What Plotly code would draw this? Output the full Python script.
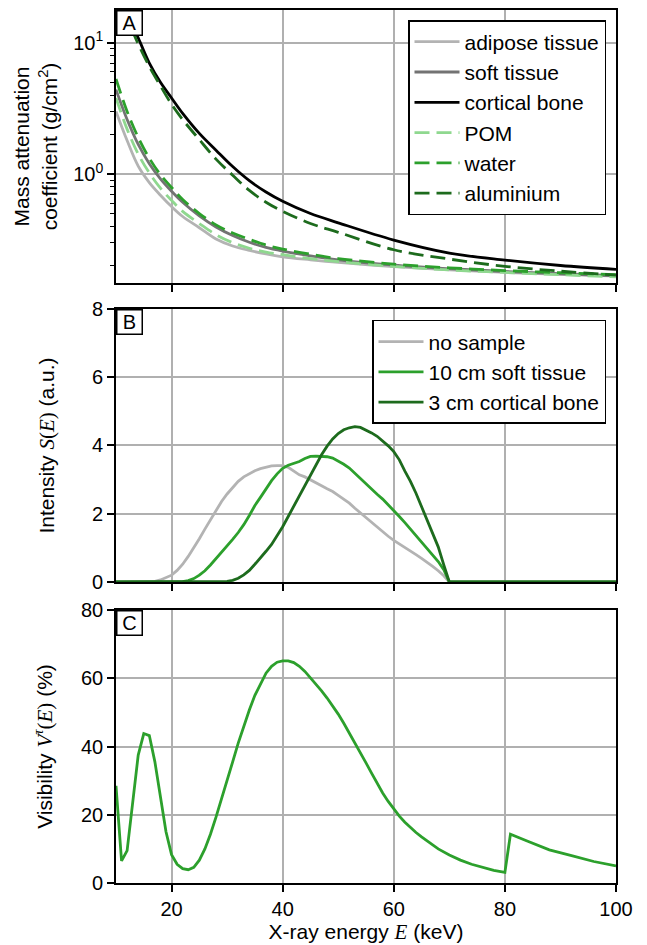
import plotly.graph_objects as go

# ---------------- Panel A: mass attenuation coefficients (g/cm^2) ----------------
energy_a = [10, 12, 14, 16, 18, 20, 22, 25, 28, 31, 34, 37, 40, 45, 50, 60, 70, 80, 90, 100]
adipose = [3.0, 1.8, 1.15, 0.86, 0.69, 0.565, 0.475, 0.39, 0.32, 0.283, 0.262, 0.246, 0.234, 0.222, 0.212, 0.197, 0.186, 0.178, 0.172, 0.167]
soft_tissue = [4.4, 2.6, 1.68, 1.2, 0.92, 0.74, 0.61, 0.48, 0.395, 0.34, 0.302, 0.276, 0.259, 0.238, 0.222, 0.202, 0.190, 0.181, 0.174, 0.168]
cortical_bone = [28.0, 16.5, 10.9, 7.0, 5.0, 3.8, 2.9, 2.04, 1.52, 1.14, 0.89, 0.73, 0.62, 0.50, 0.425, 0.314, 0.25, 0.221, 0.201, 0.188]
pom = [3.8, 2.2, 1.42, 1.02, 0.78, 0.63, 0.52, 0.42, 0.345, 0.30, 0.272, 0.254, 0.243, 0.227, 0.215, 0.198, 0.186, 0.178, 0.171, 0.165]
water = [5.3, 3.0, 1.9, 1.32, 0.99, 0.79, 0.64, 0.50, 0.41, 0.355, 0.318, 0.288, 0.268, 0.245, 0.227, 0.206, 0.193, 0.184, 0.177, 0.171]
aluminium = [26.2, 15.5, 9.8, 6.6, 4.7, 3.4, 2.6, 1.83, 1.30, 0.98, 0.75, 0.61, 0.52, 0.42, 0.36, 0.265, 0.225, 0.198, 0.182, 0.170]

# ---------------- Panel B: spectra S(E) (a.u.) ----------------
energy_b = [10] + list(range(15, 71)) + [100]
no_sample = [0,
             0, 0, 0.02, 0.06, 0.12, 0.2, 0.34, 0.52, 0.75, 1.0,
             1.27, 1.55, 1.83, 2.1, 2.36, 2.58, 2.78, 2.95, 3.08, 3.18,
             3.26, 3.32, 3.37, 3.40, 3.41, 3.41, 3.36, 3.24, 3.14, 3.08,
             3.0, 2.9, 2.82, 2.73, 2.65, 2.54, 2.43, 2.31, 2.16, 2.02,
             1.88, 1.74, 1.6, 1.46, 1.34, 1.22, 1.12, 1.02, 0.92, 0.8,
             0.69, 0.58, 0.46, 0.33, 0.18, 0,
             0]
soft_10cm = [0,
             0, 0, 0, 0, 0, 0, 0, 0.01, 0.04, 0.1,
             0.2, 0.33, 0.5, 0.68, 0.87, 1.06, 1.25, 1.45, 1.68, 1.95,
             2.24, 2.48, 2.72, 2.97, 3.17, 3.33, 3.42, 3.48, 3.53, 3.62,
             3.68, 3.69, 3.69, 3.67, 3.63, 3.55, 3.45, 3.34, 3.18, 3.02,
             2.86, 2.72, 2.57, 2.43, 2.27, 2.11, 1.92, 1.74, 1.55, 1.37,
             1.19, 1.01, 0.82, 0.6, 0.36, 0,
             0]
bone_3cm = [0,
            0, 0, 0, 0, 0, 0, 0, 0, 0, 0,
            0, 0, 0, 0, 0.01, 0.02, 0.05, 0.11, 0.21, 0.34,
            0.52, 0.7, 0.9, 1.1, 1.35, 1.62, 1.92, 2.22, 2.52, 2.83,
            3.15, 3.45, 3.73, 3.98, 4.19, 4.35, 4.46, 4.52, 4.55, 4.53,
            4.46, 4.37, 4.27, 4.14, 3.99, 3.82, 3.58, 3.25, 2.95, 2.6,
            2.22, 1.82, 1.42, 1.03, 0.5, 0,
            0]

# ---------------- Panel C: visibility (%) ----------------
energy_c = [10, 11, 12, 13, 14, 15, 16, 17, 18, 19, 20, 21, 22, 23, 24, 25, 26, 27, 28, 29,
            30, 31, 32, 33, 34, 35, 36, 37, 38, 39, 40, 41, 42, 43, 44, 45, 46, 47, 48, 49,
            50, 51, 52, 53, 54, 55, 56, 57, 58, 59, 60, 61, 62, 63, 64, 65, 66, 68, 70, 72,
            74, 76, 78, 80, 81, 84, 88, 92, 96, 100]
visibility = [28.5, 6.5, 9.5, 23.0, 37.5, 43.8, 43.2, 35.5, 25.0, 15.0, 8.3, 5.5, 4.2, 3.9, 4.6, 6.7, 10.0, 14.3, 19.3, 24.5,
              30.0, 35.5, 41.0, 46.0, 50.7, 55.0, 58.5, 61.5, 63.5, 64.7, 65.1, 65.1, 64.6, 63.5, 62.0, 60.2, 58.2, 56.3, 54.2, 52.0,
              49.5, 46.8, 44.0, 41.0, 38.1, 35.2, 32.2, 29.2, 26.4, 23.9, 21.6, 19.6, 17.8, 16.2, 14.8, 13.5, 12.3, 10.0, 8.2, 6.7,
              5.5, 4.5, 3.7, 3.1, 14.3, 12.3, 9.7, 8.0, 6.3, 5.0]

# colours
C_ADIPOSE = "#b3b3b3"
C_SOFT = "#737373"
C_BONE = "#000000"
C_POM = "#8fd88f"
C_WATER = "#2ca02c"
C_ALU = "#1d6b1d"
C_GRID = "#b0b0b0"

DASH = "15px,7px"
LW = 2.8
MATH = "Liberation Serif"
TITLE_FONT = dict(size=21)

fig = go.Figure()

panel_a = [
    ("adipose tissue", adipose, C_ADIPOSE, "solid"),
    ("soft tissue", soft_tissue, C_SOFT, "solid"),
    ("cortical bone", cortical_bone, C_BONE, "solid"),
    ("POM", pom, C_POM, DASH),
    ("water", water, C_WATER, DASH),
    ("aluminium", aluminium, C_ALU, DASH),
]
for i, (name, vals, col, dash) in enumerate(panel_a):
    fig.add_trace(go.Scatter(
        x=energy_a, y=vals, name=name, mode="lines",
        line=dict(color=col, width=LW, dash=dash, shape="spline", smoothing=1.0),
        xaxis="x", yaxis="y", legend="legend", legendgroup=f"a{i}",
    ))

panel_b = [
    ("no sample", no_sample, C_ADIPOSE),
    ("10 cm soft tissue", soft_10cm, C_WATER),
    ("3 cm cortical bone", bone_3cm, C_ALU),
]
for i, (name, vals, col) in enumerate(panel_b):
    fig.add_trace(go.Scatter(
        x=energy_b, y=vals, name=name, mode="lines",
        line=dict(color=col, width=LW),
        xaxis="x2", yaxis="y2", legend="legend2", legendgroup=f"b{i}",
    ))

fig.add_trace(go.Scatter(
    x=energy_c, y=visibility, name="visibility", mode="lines",
    line=dict(color=C_WATER, width=LW), showlegend=False,
    xaxis="x3", yaxis="y3",
))

axis_common = dict(
    showgrid=True, gridcolor=C_GRID, gridwidth=1.5,
    showline=True, linecolor="black", linewidth=1.6, mirror=True,
    ticks="outside", ticklen=7, tickwidth=1.6, tickcolor="black",
    zeroline=False, automargin=False,
)
xcommon = dict(axis_common, range=[10, 100], tick0=0, dtick=20)

minor_vals = [0.2, 0.3, 0.4, 0.5, 0.6, 0.7, 0.8, 0.9, 2, 3, 4, 5, 6, 7, 8, 9]

legend_common = dict(
    xanchor="right", yanchor="top", xref="paper", yref="paper",
    bgcolor="white", bordercolor="black", borderwidth=1.5,
    traceorder="grouped", font=dict(size=21), itemwidth=45, tracegroupgap=0,
)

fig.update_layout(
    width=647, height=945,
    margin=dict(l=116, r=31, t=10, b=62),
    plot_bgcolor="white", paper_bgcolor="white",
    font=dict(family="Liberation Sans, Arial, sans-serif", size=20, color="black"),
    xaxis=dict(xcommon, domain=[0, 1], anchor="y", showticklabels=False),
    xaxis2=dict(xcommon, domain=[0, 1], anchor="y2", showticklabels=False),
    xaxis3=dict(xcommon, domain=[0, 1], anchor="y3",
                title=dict(text=f'X-ray energy <span style="font-family:{MATH}"><i>E</i></span> (keV)',
                           standoff=6, font=TITLE_FONT)),
    yaxis=dict(axis_common, type="log", range=[-0.83, 1.25], domain=[0.6873, 1.0], anchor="x",
               tickmode="array", tickvals=[1, 10], ticktext=["10<sup>0</sup>", "10<sup>1</sup>"],
               minor=dict(ticks="outside", ticklen=4, tickwidth=1.2, tickcolor="black",
                          tickmode="array", tickvals=minor_vals, showgrid=False),
               title=dict(text="Mass attenuation<br>coefficient (g/cm<sup>2</sup>)", standoff=10,
                          font=TITLE_FONT)),
    yaxis2=dict(axis_common, range=[0, 8], dtick=2, domain=[0.3448, 0.6575], anchor="x2",
                title=dict(text=f'Intensity <span style="font-family:{MATH}"><i>S</i>(<i>E</i>)</span> (a.u.)',
                           standoff=32, font=TITLE_FONT)),
    yaxis3=dict(axis_common, range=[0, 80], dtick=20, domain=[0, 0.3127], anchor="x3",
                title=dict(text=f'Visibility <span style="font-family:{MATH}"><i>V</i><sup><i>τ</i></sup>(<i>E</i>)</span> (%)',
                           standoff=23, font=TITLE_FONT)),
    legend=dict(legend_common, x=0.98, y=0.9885),
    legend2=dict(legend_common, x=0.98, y=0.645),
    showlegend=True,
)

for letter, xr, yr in [("A", "x", "y"), ("B", "x2", "y2"), ("C", "x3", "y3")]:
    fig.add_annotation(
        text=letter, xref=f"{xr} domain", yref=f"{yr} domain", x=0, y=1,
        xanchor="left", yanchor="top", showarrow=False,
        bgcolor="white", bordercolor="black", borderwidth=1.5, borderpad=1,
        width=22, height=21, font=dict(size=20),
    )

fig.write_html("out.html")
